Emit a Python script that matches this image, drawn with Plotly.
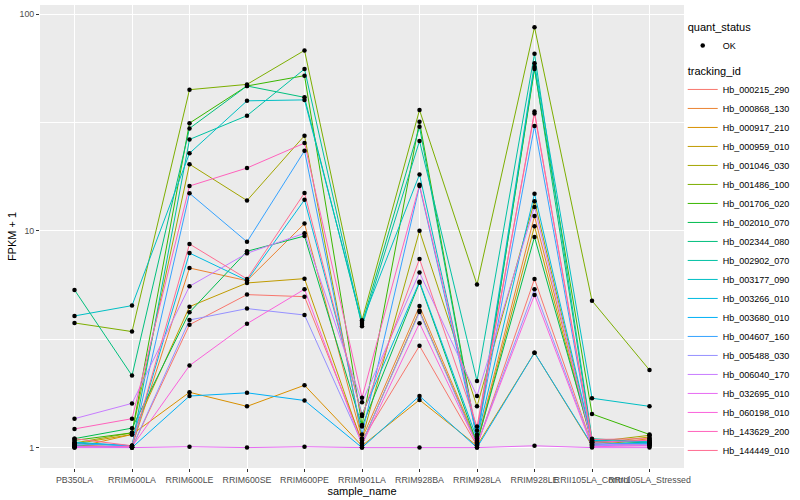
import plotly.graph_objects as go

samples = ["PB350LA", "RRIM600LA", "RRIM600LE", "RRIM600SE", "RRIM600PE", "RRIM901LA",
           "RRIM928BA", "RRIM928LA", "RRIM928LE", "RRII105LA_Control", "RRII105LA_Stressed"]

tracking_ids = ["Hb_000215_290", "Hb_000868_130", "Hb_000917_210", "Hb_000959_010", "Hb_001046_030",
                "Hb_001486_100", "Hb_001706_020", "Hb_002010_070", "Hb_002344_080", "Hb_002902_070",
                "Hb_003177_090", "Hb_003266_010", "Hb_003680_010", "Hb_004607_160", "Hb_005488_030",
                "Hb_006040_170", "Hb_032695_010", "Hb_060198_010", "Hb_143629_200", "Hb_144449_010"]

colors = ["#F8766D", "#EA8331", "#D89000", "#C09B00", "#A3A500", "#7CAE00", "#39B600", "#00BB4E",
          "#00BF7D", "#00C1A3", "#00BFC4", "#00BAE0", "#00B0F6", "#35A2FF", "#9590FF", "#C77CFF",
          "#E76BF3", "#FA62DB", "#FF62BC", "#FF6C91"]

fpkm_000215_290 = [1.03, 1.00, 3.69, 5.08, 4.97, 1.08, 2.95, 1.02, 6.00, 1.03, 1.04]
fpkm_000868_130 = [1.02, 1.01, 6.74, 5.89, 10.8, 1.10, 4.50, 1.06, 11.7, 1.05, 1.08]
fpkm_000917_210 = [1.00, 1.15, 1.80, 1.55, 1.94, 1.02, 1.66, 1.02, 2.74, 1.02, 1.10]
fpkm_000959_010 = [1.04, 1.15, 4.47, 5.75, 6.02, 1.05, 4.28, 1.04, 10.5, 1.04, 1.12]
fpkm_001046_030 = [1.05, 1.17, 20.3, 13.8, 27.5, 1.10, 10.0, 1.55, 13.7, 1.06, 1.14]
fpkm_001486_100 = [3.76, 3.43, 44.8, 47.4, 68.0, 3.87, 36.1, 5.65, 87.0, 4.76, 2.28]
fpkm_001706_020 = [1.08, 1.17, 31.4, 46.6, 52.0, 1.27, 31.9, 1.10, 55.8, 1.43, 1.15]
fpkm_002010_070 = [1.10, 1.23, 4.21, 8.05, 9.47, 1.25, 5.77, 1.05, 9.37, 1.07, 1.06]
fpkm_002344_080 = [5.34, 2.15, 29.7, 46.6, 41.3, 3.72, 30.2, 1.08, 57.0, 1.08, 1.05]
fpkm_002902_070 = [1.05, 1.02, 26.4, 34.0, 55.8, 3.63, 26.0, 2.03, 65.6, 1.10, 1.06]
fpkm_003177_090 = [4.05, 4.52, 22.8, 39.8, 40.2, 3.80, 18.2, 1.15, 59.3, 1.69, 1.55]
fpkm_003266_010 = [1.06, 1.02, 7.90, 5.90, 13.9, 1.42, 5.83, 1.10, 14.85, 1.08, 1.06]
fpkm_003680_010 = [1.02, 1.00, 1.73, 1.79, 1.65, 1.00, 1.73, 1.00, 2.74, 1.03, 1.05]
fpkm_004607_160 = [1.04, 1.02, 14.9, 8.90, 23.4, 1.15, 16.1, 1.12, 30.5, 1.05, 1.04]
fpkm_005488_030 = [1.01, 1.00, 3.88, 4.38, 4.09, 1.05, 4.22, 1.03, 5.38, 1.02, 1.03]
fpkm_006040_170 = [1.36, 1.60, 5.55, 7.88, 9.75, 1.62, 6.42, 1.73, 12.9, 1.04, 1.02]
fpkm_032695_010 = [1.00, 1.00, 1.01, 1.00, 1.01, 1.00, 1.00, 1.00, 1.02, 1.00, 1.00]
fpkm_060198_010 = [1.01, 1.01, 2.39, 3.73, 5.38, 1.03, 3.75, 1.03, 5.06, 1.01, 1.02]
fpkm_143629_200 = [1.22, 1.36, 16.1, 19.5, 25.4, 1.70, 16.3, 1.20, 35.5, 1.06, 1.08]
fpkm_144449_010 = [1.10, 1.02, 8.70, 6.00, 14.96, 1.40, 7.42, 1.25, 34.8, 1.09, 1.10]

series = [fpkm_000215_290, fpkm_000868_130, fpkm_000917_210, fpkm_000959_010, fpkm_001046_030,
          fpkm_001486_100, fpkm_001706_020, fpkm_002010_070, fpkm_002344_080, fpkm_002902_070,
          fpkm_003177_090, fpkm_003266_010, fpkm_003680_010, fpkm_004607_160, fpkm_005488_030,
          fpkm_006040_170, fpkm_032695_010, fpkm_060198_010, fpkm_143629_200, fpkm_144449_010]

FONT = "Liberation Sans, Arial, sans-serif"

fig = go.Figure()

for i, (tid, col, vals) in enumerate(zip(tracking_ids, colors, series)):
    fig.add_trace(go.Scatter(
        x=samples, y=vals, mode="lines", name=tid,
        line=dict(color=col, width=1),
        legendgroup="tracking_id",
        legendgrouptitle=dict(text="tracking_id", font=dict(size=11, color="#000000")),
        legendrank=100 + i,
    ))

all_x = [s for vals in series for s in samples]
all_y = [v for vals in series for v in vals]
fig.add_trace(go.Scatter(
    x=all_x, y=all_y, mode="markers", name="OK",
    marker=dict(color="black", size=4.5),
    legendgroup="quant_status",
    legendgrouptitle=dict(text="quant_status", font=dict(size=11, color="#000000")),
    legendrank=1,
))

fig.update_layout(
    width=800, height=500,
    margin=dict(l=40, r=116, t=5, b=32, autoexpand=False),
    paper_bgcolor="white",
    plot_bgcolor="#EBEBEB",
    font=dict(family=FONT, size=9, color="#000000"),
    showlegend=True,
    legend=dict(
        x=0.998, xanchor="left", y=0.985, yanchor="top",
        traceorder="grouped", tracegroupgap=6,
        font=dict(size=9, color="#000000"),
        bgcolor="rgba(255,255,255,0)",
        itemwidth=30,
    ),
    xaxis=dict(
        type="category", categoryorder="array", categoryarray=samples,
        range=[-0.6, 10.6],
        showgrid=True, gridcolor="white", gridwidth=1,
        zeroline=False, showline=False,
        ticks="outside", ticklen=3, tickcolor="#333333", tickwidth=1,
        tickangle=0, automargin=False,
        tickfont=dict(size=8.8, color="#4D4D4D", family=FONT),
        title=dict(text="sample_name", font=dict(size=11, color="#000000", family=FONT), standoff=1),
    ),
    yaxis=dict(
        type="log", range=[-0.094, 2.042],
        tickmode="array", tickvals=[1, 10, 100], ticktext=["1", "10", "100"],
        showgrid=True, gridcolor="white", gridwidth=1,
        minor=dict(tickmode="array", tickvals=[10 ** 0.5, 10 ** 1.5], showgrid=True,
                   gridcolor="white", gridwidth=0.5, ticks=""),
        zeroline=False, showline=False, automargin=False,
        ticks="outside", ticklen=3, tickcolor="#333333", tickwidth=1,
        tickfont=dict(size=8.8, color="#4D4D4D", family=FONT),
        title=dict(text="FPKM + 1", font=dict(size=11, color="#000000", family=FONT), standoff=0),
    ),
)

fig.write_html("out.html", config={"displayModeBar": False},
               post_script="document.body.style.margin='0';document.body.style.overflow='hidden';")
